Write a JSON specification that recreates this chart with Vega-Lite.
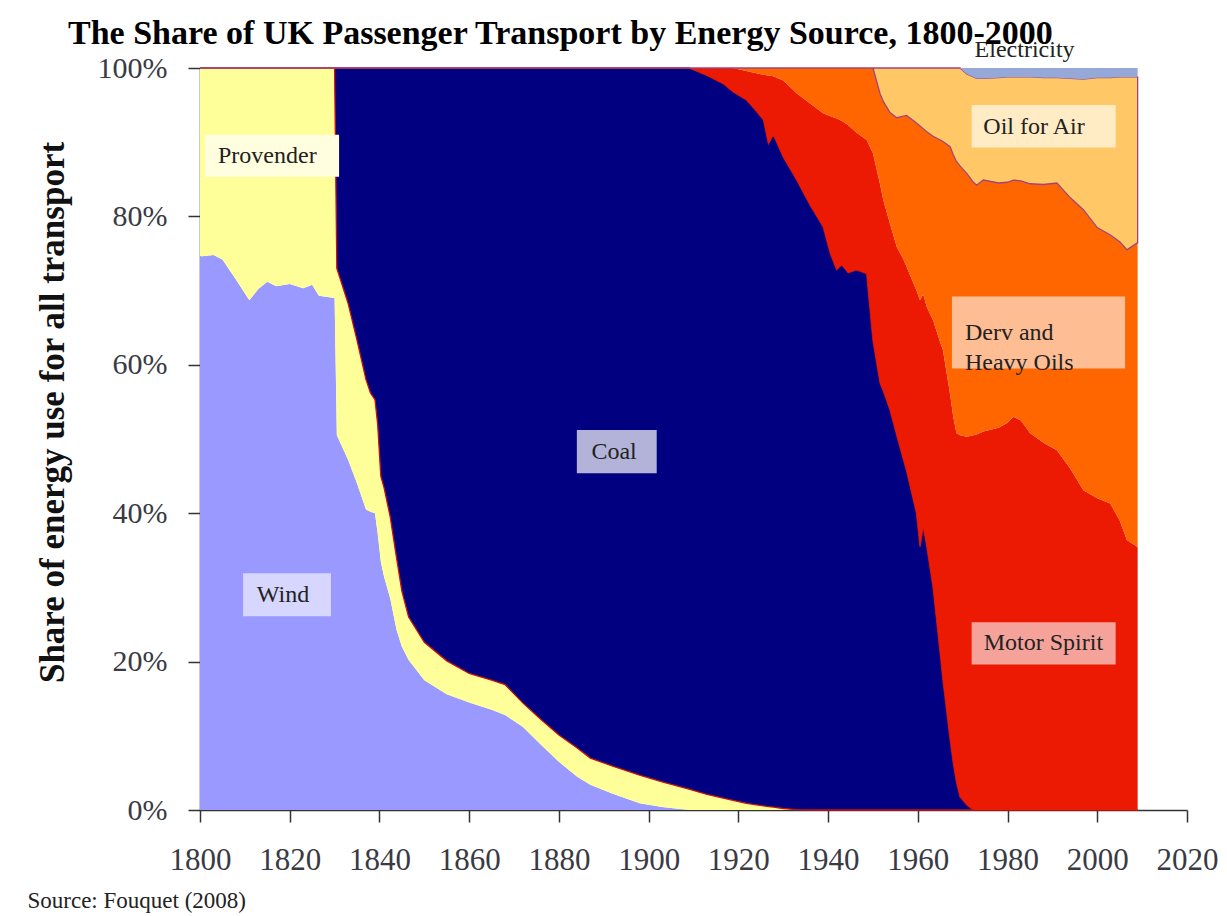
{
  "$schema": "https://vega.github.io/schema/vega-lite/v6.json",
  "width": 987,
  "height": 742,
  "autosize": {"type": "none"},
  "padding": {"left": 200, "top": 68, "right": 40, "bottom": 106},
  "background": "white",
  "title": {
    "text": "The Share of UK Passenger Transport by Energy Source, 1800-2000",
    "anchor": "start",
    "frame": "group",
    "dx": -132,
    "dy": 64,
    "font": "Liberation Serif",
    "fontSize": 34,
    "fontWeight": "bold",
    "color": "#000000",
    "baseline": "alphabetic",
    "offset": 24
  },
  "config": {
    "view": {"stroke": null},
    "axis": {"grid": false}
  },
  "datasets": {
    "shares": [
      {"year":1800,"wind":74.6,"prov":25.4,"coal":0,"motor":0,"derv":0,"air":0,"elec":0},
      {"year":1803,"wind":74.8,"prov":25.2,"coal":0,"motor":0,"derv":0,"air":0,"elec":0},
      {"year":1805,"wind":74.2,"prov":25.8,"coal":0,"motor":0,"derv":0,"air":0,"elec":0},
      {"year":1808,"wind":71.5,"prov":28.5,"coal":0,"motor":0,"derv":0,"air":0,"elec":0},
      {"year":1811,"wind":68.7,"prov":31.3,"coal":0,"motor":0,"derv":0,"air":0,"elec":0},
      {"year":1813,"wind":70.2,"prov":29.8,"coal":0,"motor":0,"derv":0,"air":0,"elec":0},
      {"year":1815,"wind":71.2,"prov":28.8,"coal":0,"motor":0,"derv":0,"air":0,"elec":0},
      {"year":1817,"wind":70.6,"prov":29.4,"coal":0,"motor":0,"derv":0,"air":0,"elec":0},
      {"year":1820,"wind":70.9,"prov":29.1,"coal":0,"motor":0,"derv":0,"air":0,"elec":0},
      {"year":1823,"wind":70.3,"prov":29.7,"coal":0,"motor":0,"derv":0,"air":0,"elec":0},
      {"year":1825,"wind":70.8,"prov":29.2,"coal":0,"motor":0,"derv":0,"air":0,"elec":0},
      {"year":1826.5,"wind":69.3,"prov":30.7,"coal":0,"motor":0,"derv":0,"air":0,"elec":0},
      {"year":1830,"wind":69.0,"prov":31.0,"coal":0,"motor":0,"derv":0,"air":0,"elec":0},
      {"year":1830.5,"wind":50.5,"prov":22.5,"coal":27.0,"motor":0,"derv":0,"air":0,"elec":0},
      {"year":1833,"wind":47.2,"prov":21.1,"coal":31.7,"motor":0,"derv":0,"air":0,"elec":0},
      {"year":1835,"wind":44.0,"prov":19.3,"coal":36.7,"motor":0,"derv":0,"air":0,"elec":0},
      {"year":1837,"wind":40.5,"prov":17.5,"coal":42.0,"motor":0,"derv":0,"air":0,"elec":0},
      {"year":1838,"wind":40.2,"prov":16.0,"coal":43.8,"motor":0,"derv":0,"air":0,"elec":0},
      {"year":1839,"wind":40.0,"prov":15.3,"coal":44.7,"motor":0,"derv":0,"air":0,"elec":0},
      {"year":1839.6,"wind":37.3,"prov":14.7,"coal":48.0,"motor":0,"derv":0,"air":0,"elec":0},
      {"year":1840.3,"wind":33.5,"prov":11.5,"coal":55.0,"motor":0,"derv":0,"air":0,"elec":0},
      {"year":1841,"wind":31.5,"prov":12.0,"coal":56.5,"motor":0,"derv":0,"air":0,"elec":0},
      {"year":1842.4,"wind":28.5,"prov":11.0,"coal":60.5,"motor":0,"derv":0,"air":0,"elec":0},
      {"year":1843.8,"wind":24.3,"prov":9.7,"coal":66.0,"motor":0,"derv":0,"air":0,"elec":0},
      {"year":1845,"wind":22.0,"prov":7.5,"coal":70.5,"motor":0,"derv":0,"air":0,"elec":0},
      {"year":1846.5,"wind":20.2,"prov":5.8,"coal":74.0,"motor":0,"derv":0,"air":0,"elec":0},
      {"year":1850,"wind":17.5,"prov":5.1,"coal":77.4,"motor":0,"derv":0,"air":0,"elec":0},
      {"year":1855,"wind":15.6,"prov":4.5,"coal":79.9,"motor":0,"derv":0,"air":0,"elec":0},
      {"year":1860,"wind":14.5,"prov":3.9,"coal":81.6,"motor":0,"derv":0,"air":0,"elec":0},
      {"year":1865,"wind":13.5,"prov":4.0,"coal":82.5,"motor":0,"derv":0,"air":0,"elec":0},
      {"year":1868,"wind":12.8,"prov":4.1,"coal":83.1,"motor":0,"derv":0,"air":0,"elec":0},
      {"year":1872,"wind":11.2,"prov":3.2,"coal":85.6,"motor":0,"derv":0,"air":0,"elec":0},
      {"year":1876,"wind":8.8,"prov":3.4,"coal":87.8,"motor":0,"derv":0,"air":0,"elec":0},
      {"year":1880,"wind":6.5,"prov":3.6,"coal":89.9,"motor":0,"derv":0,"air":0,"elec":0},
      {"year":1884,"wind":4.5,"prov":3.9,"coal":91.6,"motor":0,"derv":0,"air":0,"elec":0},
      {"year":1887,"wind":3.4,"prov":3.6,"coal":93.0,"motor":0,"derv":0,"air":0,"elec":0},
      {"year":1892,"wind":2.2,"prov":3.7,"coal":94.1,"motor":0,"derv":0,"air":0,"elec":0},
      {"year":1898,"wind":0.9,"prov":3.8,"coal":95.3,"motor":0,"derv":0,"air":0,"elec":0},
      {"year":1903,"wind":0.4,"prov":3.4,"coal":96.2,"motor":0,"derv":0,"air":0,"elec":0},
      {"year":1909,"wind":0,"prov":2.8,"coal":97.2,"motor":0,"derv":0,"air":0,"elec":0},
      {"year":1913,"wind":0,"prov":2.1,"coal":96.9,"motor":1.0,"derv":0,"air":0,"elec":0},
      {"year":1916.6,"wind":0,"prov":1.6,"coal":96.3,"motor":2.1,"derv":0,"air":0,"elec":0},
      {"year":1918.8,"wind":0,"prov":1.3,"coal":95.5,"motor":3.2,"derv":0,"air":0,"elec":0},
      {"year":1921.8,"wind":0,"prov":0.9,"coal":94.8,"motor":3.9,"derv":0.4,"air":0,"elec":0},
      {"year":1924,"wind":0,"prov":0.7,"coal":93.5,"motor":5.1,"derv":0.7,"air":0,"elec":0},
      {"year":1925.6,"wind":0,"prov":0.55,"coal":92.45,"motor":6.1,"derv":0.9,"air":0,"elec":0},
      {"year":1926.7,"wind":0,"prov":0.45,"coal":89.35,"motor":9.2,"derv":1.0,"air":0,"elec":0},
      {"year":1927.8,"wind":0,"prov":0.4,"coal":90.6,"motor":7.9,"derv":1.1,"air":0,"elec":0},
      {"year":1930,"wind":0,"prov":0.2,"coal":87.8,"motor":10.3,"derv":1.7,"air":0,"elec":0},
      {"year":1933,"wind":0,"prov":0.05,"coal":84.85,"motor":11.7,"derv":3.4,"air":0,"elec":0},
      {"year":1936,"wind":0,"prov":0,"coal":81.5,"motor":13.7,"derv":4.8,"air":0,"elec":0},
      {"year":1938.9,"wind":0,"prov":0,"coal":78.6,"motor":15.3,"derv":6.1,"air":0,"elec":0},
      {"year":1940.5,"wind":0,"prov":0,"coal":75.0,"motor":18.5,"derv":6.5,"air":0,"elec":0},
      {"year":1941.9,"wind":0,"prov":0,"coal":72.8,"motor":20.4,"derv":6.8,"air":0,"elec":0},
      {"year":1943,"wind":0,"prov":0,"coal":73.5,"motor":19.4,"derv":7.1,"air":0,"elec":0},
      {"year":1944.5,"wind":0,"prov":0,"coal":72.4,"motor":19.9,"derv":7.7,"air":0,"elec":0},
      {"year":1946.3,"wind":0,"prov":0,"coal":72.8,"motor":18.5,"derv":8.7,"air":0,"elec":0},
      {"year":1948.6,"wind":0,"prov":0,"coal":72.3,"motor":18.0,"derv":9.7,"air":0,"elec":0},
      {"year":1950,"wind":0,"prov":0,"coal":63.3,"motor":25.2,"derv":11.5,"air":0,"elec":0},
      {"year":1951.6,"wind":0,"prov":0,"coal":57.5,"motor":26.8,"derv":12.2,"air":3.5,"elec":0},
      {"year":1952.3,"wind":0,"prov":0,"coal":56.5,"motor":25.7,"derv":13.3,"air":4.5,"elec":0},
      {"year":1953.8,"wind":0,"prov":0,"coal":53.9,"motor":25.1,"derv":15.0,"air":6.0,"elec":0},
      {"year":1955.3,"wind":0,"prov":0,"coal":50.5,"motor":25.4,"derv":17.4,"air":6.7,"elec":0},
      {"year":1956.8,"wind":0,"prov":0,"coal":47.2,"motor":27.0,"derv":19.3,"air":6.5,"elec":0},
      {"year":1957.5,"wind":0,"prov":0,"coal":45.7,"motor":27.5,"derv":20.4,"air":6.4,"elec":0},
      {"year":1959.7,"wind":0,"prov":0,"coal":40.0,"motor":30.0,"derv":22.6,"air":7.4,"elec":0},
      {"year":1960.5,"wind":0,"prov":0,"coal":35.5,"motor":33.2,"derv":23.5,"air":7.8,"elec":0},
      {"year":1961.2,"wind":0,"prov":0,"coal":38.2,"motor":31.3,"derv":22.3,"air":8.2,"elec":0},
      {"year":1962,"wind":0,"prov":0,"coal":35.5,"motor":32.3,"derv":23.6,"air":8.6,"elec":0},
      {"year":1963.4,"wind":0,"prov":0,"coal":30.0,"motor":36.0,"derv":24.8,"air":9.2,"elec":0},
      {"year":1965,"wind":0,"prov":0,"coal":21.0,"motor":42.0,"derv":27.3,"air":9.7,"elec":0},
      {"year":1965.6,"wind":0,"prov":0,"coal":17.5,"motor":44.5,"derv":28.1,"air":9.9,"elec":0},
      {"year":1967.2,"wind":0,"prov":0,"coal":9.5,"motor":46.5,"derv":33.4,"air":10.6,"elec":0},
      {"year":1967.9,"wind":0,"prov":0,"coal":6.3,"motor":46.7,"derv":35.3,"air":11.7,"elec":0},
      {"year":1968.6,"wind":0,"prov":0,"coal":3.8,"motor":47.0,"derv":36.6,"air":12.6,"elec":0},
      {"year":1969.4,"wind":0,"prov":0,"coal":1.8,"motor":48.7,"derv":36.3,"air":13.2,"elec":0},
      {"year":1970.9,"wind":0,"prov":0,"coal":0.7,"motor":49.6,"derv":35.5,"air":13.4,"elec":0.8},
      {"year":1972.4,"wind":0,"prov":0,"coal":0,"motor":50.5,"derv":34.1,"air":14.2,"elec":1.2},
      {"year":1973.1,"wind":0,"prov":0,"coal":0,"motor":50.6,"derv":33.6,"air":14.4,"elec":1.4},
      {"year":1974.6,"wind":0,"prov":0,"coal":0,"motor":51.0,"derv":33.9,"air":13.7,"elec":1.4},
      {"year":1978,"wind":0,"prov":0,"coal":0,"motor":51.5,"derv":33.0,"air":14.2,"elec":1.3},
      {"year":1980,"wind":0,"prov":0,"coal":0,"motor":52.2,"derv":32.4,"air":14.2,"elec":1.2},
      {"year":1981.3,"wind":0,"prov":0,"coal":0,"motor":53.0,"derv":31.9,"air":13.9,"elec":1.2},
      {"year":1983,"wind":0,"prov":0,"coal":0,"motor":52.5,"derv":32.3,"air":14.0,"elec":1.2},
      {"year":1985,"wind":0,"prov":0,"coal":0,"motor":50.8,"derv":33.6,"air":14.4,"elec":1.2},
      {"year":1988,"wind":0,"prov":0,"coal":0,"motor":49.5,"derv":34.8,"air":14.4,"elec":1.3},
      {"year":1991,"wind":0,"prov":0,"coal":0,"motor":48.5,"derv":36.0,"air":14.2,"elec":1.3},
      {"year":1994,"wind":0,"prov":0,"coal":0,"motor":46.0,"derv":36.5,"air":16.1,"elec":1.4},
      {"year":1996.9,"wind":0,"prov":0,"coal":0,"motor":43.1,"derv":37.8,"air":17.6,"elec":1.5},
      {"year":2000,"wind":0,"prov":0,"coal":0,"motor":42.0,"derv":36.5,"air":20.2,"elec":1.3},
      {"year":2002.9,"wind":0,"prov":0,"coal":0,"motor":41.3,"derv":36.2,"air":21.2,"elec":1.3},
      {"year":2005,"wind":0,"prov":0,"coal":0,"motor":39.0,"derv":37.6,"air":22.2,"elec":1.2},
      {"year":2006.6,"wind":0,"prov":0,"coal":0,"motor":36.4,"derv":39.1,"air":23.3,"elec":1.2},
      {"year":2008.8,"wind":0,"prov":0,"coal":0,"motor":35.5,"derv":40.9,"air":22.4,"elec":1.2},
      {"year":2009,"wind":0,"prov":0,"coal":0,"motor":35.5,"derv":40.9,"air":22.4,"elec":1.2}
    ],
    "boxes": [
      {"lab":"Provender","x0":1801.1,"x1":1831.0,"y0":85.35,"y1":91.0},
      {"lab":"Coal","x0":1884.0,"x1":1901.8,"y0":45.4,"y1":51.2},
      {"lab":"Wind","x0":1809.6,"x1":1829.2,"y0":26.1,"y1":31.9},
      {"lab":"Oil for Air","x0":1972.0,"x1":2004.1,"y0":89.3,"y1":95.0},
      {"lab":"Derv","x0":1967.6,"x1":2006.2,"y0":59.5,"y1":69.2},
      {"lab":"Motor Spirit","x0":1972.0,"x1":2004.1,"y0":19.6,"y1":25.3}
    ],
    "texts": [
      {"txt":"Provender","x":1815.0,"y":88.1},
      {"txt":"Coal","x":1892.3,"y":48.2},
      {"txt":"Wind","x":1818.5,"y":29.0},
      {"txt":"Oil for Air","x":1985.9,"y":92.1},
      {"txt":"Motor Spirit","x":1988.0,"y":22.5},
      {"txt":"Electricity","x":1983.8,"y":102.4}
    ],
    "texts2": [
      {"txt":"Derv and\nHeavy Oils","x":1970.5,"y":64.3}
    ]
  },
  "layer": [
    {
      "data": {"name": "shares"},
      "transform": [
        {"fold": ["wind","prov","coal","motor","derv","air","elec"], "as": ["key","share"]},
        {"calculate": "indexof(['wind','prov','coal','motor','derv','air','elec'], datum.key)", "as": "ord"}
      ],
      "mark": {"type": "area", "interpolate": "linear", "strokeWidth": 1.3},
      "encoding": {
        "x": {
          "field": "year", "type": "quantitative",
          "scale": {"domain": [1800, 2020], "nice": false, "zero": false},
          "axis": {
            "values": [1800,1820,1840,1860,1880,1900,1920,1940,1960,1980,2000,2020],
            "format": "d",
            "labelFont": "Liberation Serif", "labelFontSize": 31, "labelColor": "#3a3a44",
            "labelPadding": 23, "tickSize": 12, "tickColor": "#333333", "tickWidth": 1.5,
            "domainColor": "#333333", "domainWidth": 1.5, "labelFlush": false, "labelOverlap": false,
            "title": "Source: Fouquet (2008)",
            "titleFont": "Liberation Serif", "titleFontSize": 23, "titleFontWeight": "normal",
            "titleColor": "#222222", "titleX": -173, "titleY": 90, "titleAlign": "left",
            "titleBaseline": "middle", "titleAnchor": "start"
          }
        },
        "y": {
          "field": "share", "type": "quantitative", "stack": "zero",
          "scale": {"domain": [0, 100], "nice": false},
          "axis": {
            "values": [0,20,40,60,80,100],
            "labelExpr": "datum.value + '%'",
            "labelFont": "Liberation Serif", "labelFontSize": 30, "labelColor": "#3a3a44",
            "labelPadding": 21, "tickSize": 12, "tickColor": "#333333", "tickWidth": 1.5,
            "domainColor": "#333333", "domainWidth": 1.5,
            "title": "Share of energy use for all transport",
            "titleFont": "Liberation Serif", "titleFontSize": 35, "titleFontWeight": "bold",
            "titleColor": "#111111", "titleX": -148, "titleY": 344,
            "titleAlign": "center", "titleBaseline": "middle"
          }
        },
        "order": {"field": "ord", "type": "quantitative"},
        "color": {
          "field": "key", "type": "nominal", "legend": null,
          "scale": {
            "domain": ["wind","prov","coal","motor","derv","air","elec"],
            "range": ["#9999FF","#FFFF99","#000080","#EC1A02","#FF6600","#FFC766","#96A8D8"]
          }
        },
        "stroke": {
          "field": "key", "type": "nominal", "legend": null,
          "scale": {
            "domain": ["wind","prov","coal","motor","derv","air","elec"],
            "range": ["transparent","transparent","#C81010","transparent","transparent","#A0457A","transparent"]
          }
        }
      }
    },
    {
      "data": {"name": "boxes"},
      "mark": {"type": "rect"},
      "encoding": {
        "x": {"field": "x0", "type": "quantitative"},
        "x2": {"field": "x1"},
        "y": {"field": "y0", "type": "quantitative"},
        "y2": {"field": "y1"},
        "fill": {
          "field": "lab", "type": "nominal", "legend": null,
          "scale": {
            "domain": ["Provender","Coal","Wind","Oil for Air","Derv","Motor Spirit"],
            "range": ["#FFFFDF","#B3B3D9","#D6D6FF","#FFEBC4","#FFBD94","#F5A29A"]
          }
        }
      }
    },
    {
      "data": {"name": "texts"},
      "mark": {"type": "text", "font": "Liberation Serif", "fontSize": 24, "color": "#222222", "baseline": "middle", "align": "center"},
      "encoding": {
        "x": {"field": "x", "type": "quantitative"},
        "y": {"field": "y", "type": "quantitative"},
        "text": {"field": "txt"}
      }
    },
    {
      "data": {"name": "texts2"},
      "mark": {"type": "text", "font": "Liberation Serif", "fontSize": 24, "color": "#222222", "baseline": "middle", "align": "left", "lineBreak": "\n", "lineHeight": 30},
      "encoding": {
        "x": {"field": "x", "type": "quantitative"},
        "y": {"field": "y", "type": "quantitative"},
        "text": {"field": "txt"}
      }
    }
  ]
}
